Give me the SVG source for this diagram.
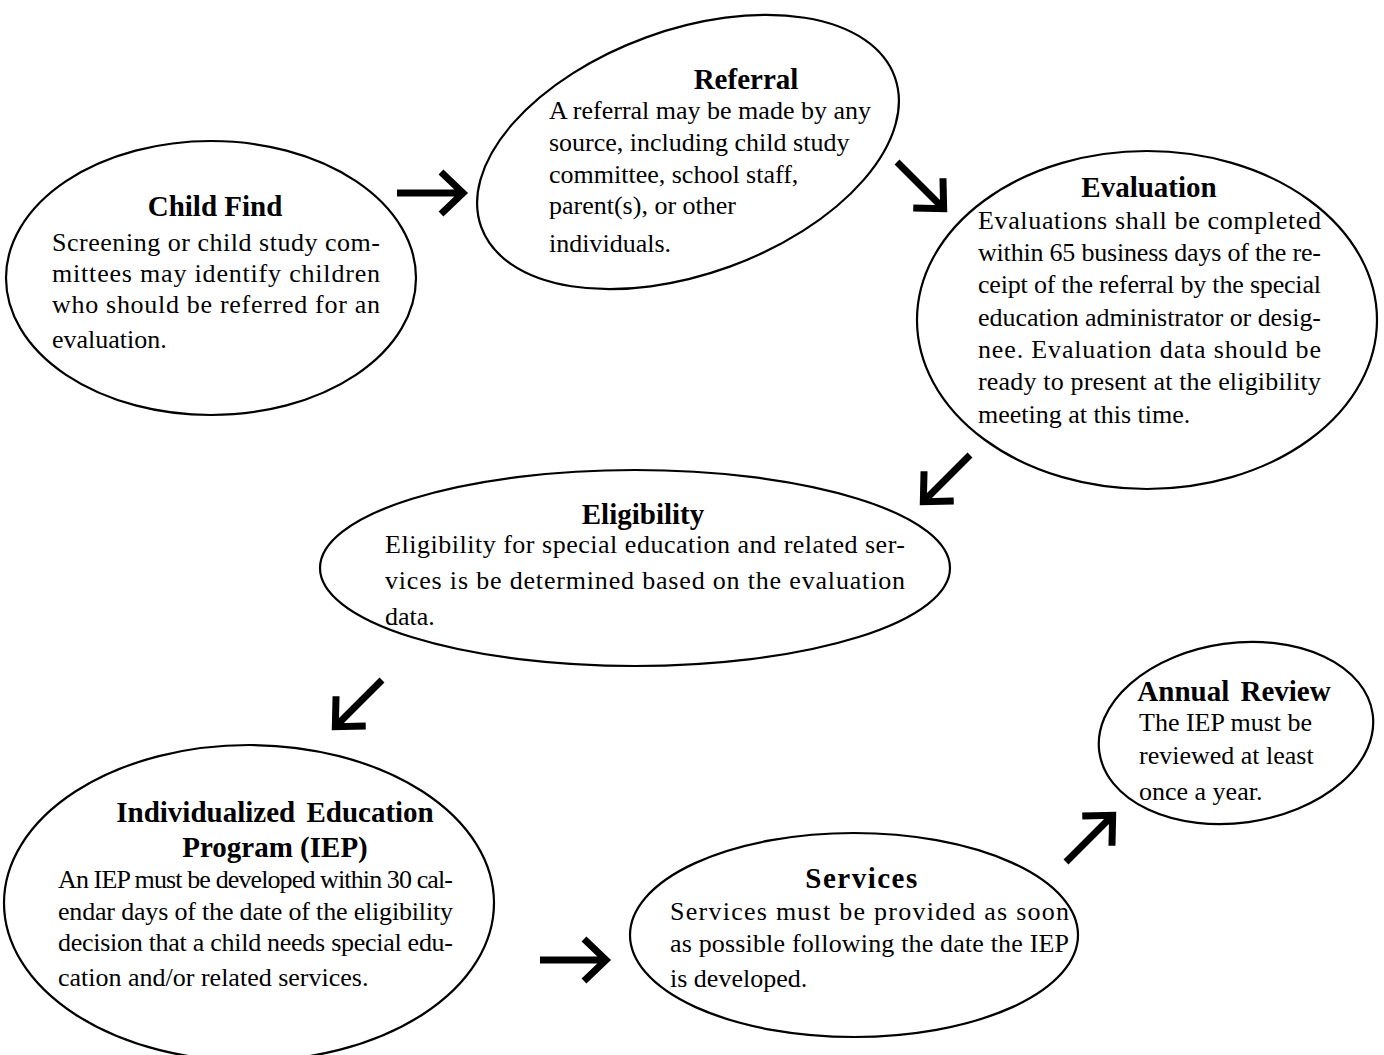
<svg xmlns="http://www.w3.org/2000/svg" xmlns:xlink="http://www.w3.org/1999/xlink" width="1384" height="1055" viewBox="0 0 1384 1055">
<style>
.shape{fill:#fff;stroke:#000;stroke-width:2.2}
.t{font-family:"Liberation Serif","Times New Roman",serif;font-weight:bold;font-size:29px;fill:#000;text-anchor:middle}
.b{font-family:"Liberation Serif","Times New Roman",serif;font-size:26px;fill:#000}
.arr{fill:none;stroke:#000;stroke-width:7;stroke-linejoin:miter;stroke-miterlimit:10}
</style>
<defs>
<g id="arrow"><path class="arr" d="M0,0 H64 M44,-21 L66,0 L44,21"/></g>
</defs>
<rect width="1384" height="1055" fill="#fff"/>
<g id="connectors">
<use xlink:href="#arrow" href="#arrow" transform="translate(397,193)"/>
<use xlink:href="#arrow" href="#arrow" transform="translate(897,162) rotate(45)"/>
<use xlink:href="#arrow" href="#arrow" transform="translate(970,455) rotate(135)"/>
<use xlink:href="#arrow" href="#arrow" transform="translate(382,680) rotate(135)"/>
<use xlink:href="#arrow" href="#arrow" transform="translate(540,960)"/>
<use xlink:href="#arrow" href="#arrow" transform="translate(1066,862) rotate(-45)"/>
</g>
<g id="child-find">
<ellipse class="shape" cx="211" cy="278" rx="205" ry="137"/>
<text class="t" x="215" y="216">Child Find</text>
<text class="b" x="52" y="251" textLength="328" lengthAdjust="spacing">Screening or child study com-</text>
<text class="b" x="52" y="282" textLength="328" lengthAdjust="spacing">mittees may identify children</text>
<text class="b" x="52" y="313" textLength="328" lengthAdjust="spacing">who should be referred for an</text>
<text class="b" x="52" y="348">evaluation.</text>
</g>
<g id="referral">
<ellipse class="shape" cx="688" cy="152" rx="220" ry="122" transform="rotate(-20 688 152)"/>
<text class="t" x="746" y="89">Referral</text>
<text class="b" x="549" y="119">A referral may be made by any</text>
<text class="b" x="549" y="151">source, including child study</text>
<text class="b" x="549" y="183">committee, school staff,</text>
<text class="b" x="549" y="214">parent(s), or other</text>
<text class="b" x="549" y="252">individuals.</text>
</g>
<g id="evaluation">
<ellipse class="shape" cx="1147" cy="320" rx="230" ry="169"/>
<text class="t" x="1149" y="197">Evaluation</text>
<text class="b" x="978" y="229" textLength="343" lengthAdjust="spacing">Evaluations shall be completed</text>
<text class="b" x="978" y="261" textLength="343" lengthAdjust="spacing">within 65 business days of the re-</text>
<text class="b" x="978" y="293" textLength="343" lengthAdjust="spacing">ceipt of the referral by the special</text>
<text class="b" x="978" y="326" textLength="343" lengthAdjust="spacing">education administrator or desig-</text>
<text class="b" x="978" y="358" textLength="343" lengthAdjust="spacing">nee. Evaluation data should be</text>
<text class="b" x="978" y="390" textLength="343" lengthAdjust="spacing">ready to present at the eligibility</text>
<text class="b" x="978" y="423">meeting at this time.</text>
</g>
<g id="eligibility">
<ellipse class="shape" cx="635" cy="568" rx="315" ry="98"/>
<text class="t" x="643" y="524">Eligibility</text>
<text class="b" x="385" y="553" textLength="520" lengthAdjust="spacing">Eligibility for special education and related ser-</text>
<text class="b" x="385" y="589" textLength="520" lengthAdjust="spacing">vices is be determined based on the evaluation</text>
<text class="b" x="385" y="625">data.</text>
</g>
<g id="iep">
<ellipse class="shape" cx="249" cy="903" rx="245" ry="158"/>
<text class="t" x="275" y="822" word-spacing="4">Individualized Education</text>
<text class="t" x="275" y="857">Program (IEP)</text>
<text class="b" x="58" y="888" textLength="395" lengthAdjust="spacing">An IEP must be developed within 30 cal-</text>
<text class="b" x="58" y="920" textLength="395" lengthAdjust="spacing">endar days of the date of the eligibility</text>
<text class="b" x="58" y="951" textLength="395" lengthAdjust="spacing">decision that a child needs special edu-</text>
<text class="b" x="58" y="986">cation and/or related services.</text>
</g>
<g id="services">
<ellipse class="shape" cx="854" cy="935" rx="224" ry="102"/>
<text class="t" x="862" y="888" letter-spacing="1.5">Services</text>
<text class="b" x="670" y="920" textLength="399" lengthAdjust="spacing">Services must be provided as soon</text>
<text class="b" x="670" y="952" textLength="399" lengthAdjust="spacing">as possible following the date the IEP</text>
<text class="b" x="670" y="987">is developed.</text>
</g>
<g id="annual-review">
<ellipse class="shape" cx="1236" cy="733" rx="138" ry="90" transform="rotate(-8 1236 733)"/>
<text class="t" x="1234" y="701" word-spacing="4">Annual Review</text>
<text class="b" x="1139" y="731">The IEP must be</text>
<text class="b" x="1139" y="764">reviewed at least</text>
<text class="b" x="1139" y="800">once a year.</text>
</g>
</svg>
